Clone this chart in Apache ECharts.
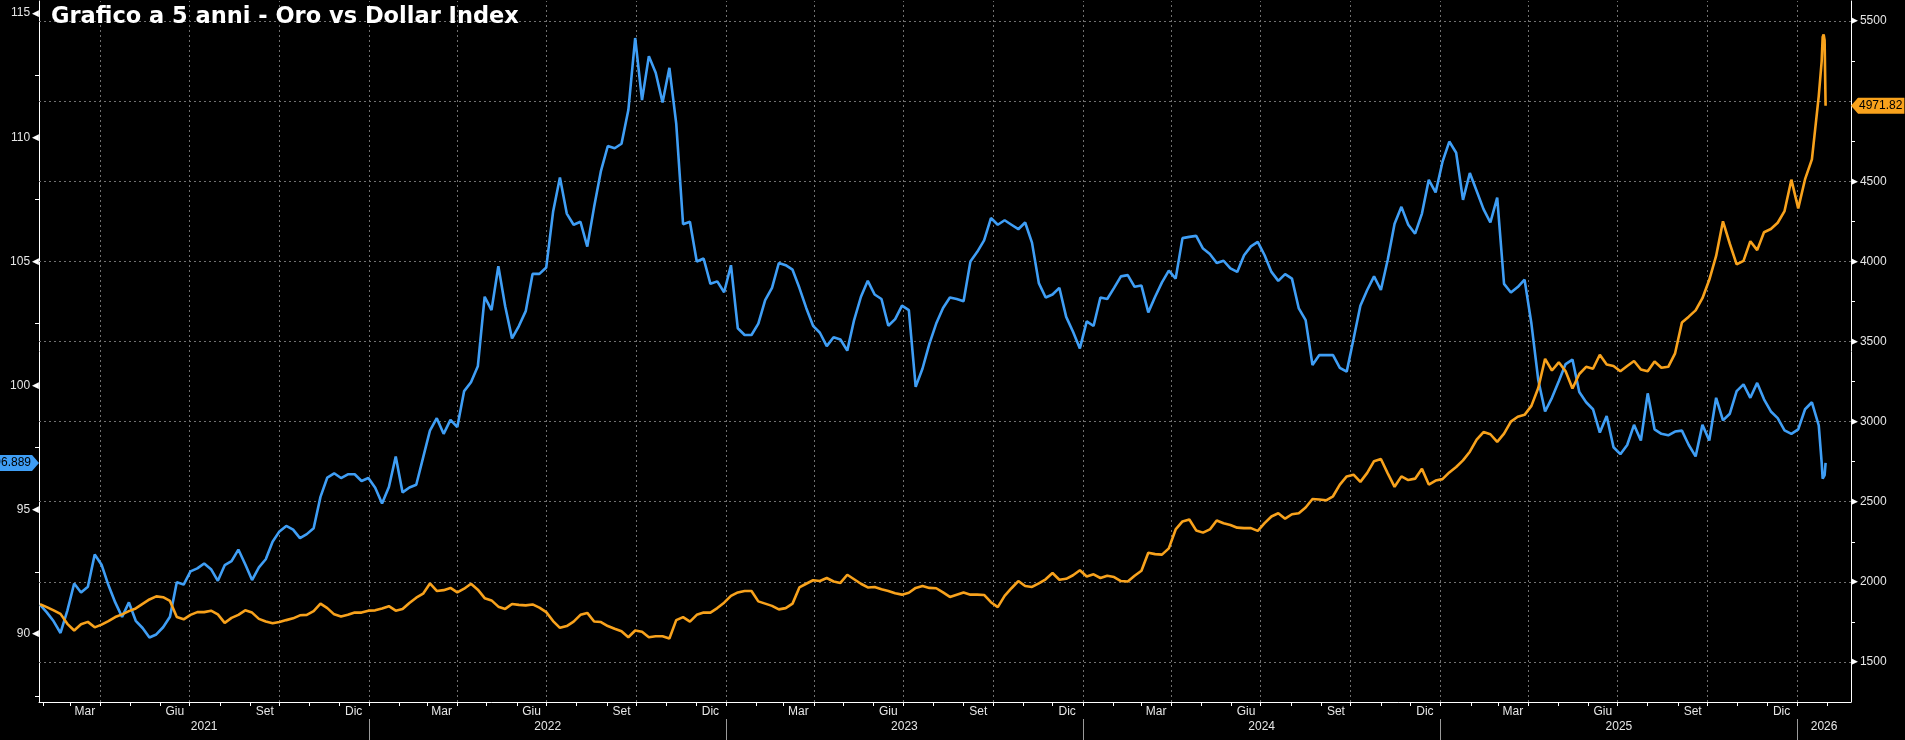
<!DOCTYPE html>
<html>
<head>
<meta charset="utf-8">
<title>Grafico a 5 anni - Oro vs Dollar Index</title>
<script src="https://cdn.jsdelivr.net/npm/echarts@6/dist/echarts.min.js"></script>
<style>
html, body { margin: 0; padding: 0; background: #000; }
#main { width: 1905px; height: 740px; }
</style>
</head>
<body>
<div id="main"></div>
<script>
"use strict";

// serie settimanali (venerdi) a partire dal 29/01/2021
var weekStart = [2021, 0, 29];

var dxyWeekly = [
    91.18, 90.87, 90.51, 90.04, 90.94, 92.03, 91.67, 91.90, 93.2, 92.79,
    91.97, 91.27, 90.69, 91.27, 90.53, 90.24, 89.86, 89.98, 90.27, 90.69,
    92.08, 91.99, 92.52, 92.64, 92.84, 92.61, 92.14, 92.77, 92.93, 93.40,
    92.81, 92.17, 92.68, 93.01, 93.71, 94.13, 94.35, 94.20, 93.86, 94.02,
    94.26, 95.52, 96.30, 96.47, 96.28, 96.43, 96.43, 96.16, 96.28, 95.89,
    95.25, 95.92, 97.15, 95.7, 95.9, 96.01, 97.10, 98.19, 98.69, 98.06,
    98.62, 98.33, 99.78, 100.14, 100.78, 103.58, 103.04, 104.81, 103.2, 101.9,
    102.4, 103.0, 104.5, 104.5, 104.76, 107.0, 108.38, 106.93, 106.48, 106.6,
    105.6, 107.2, 108.65, 109.65, 109.56, 109.74, 111.1, 114.0, 111.5, 113.27,
    112.6, 111.4, 112.8, 110.55, 106.5, 106.6, 105.0, 105.12, 104.1, 104.2,
    103.76, 104.85, 102.31, 102.04, 102.04, 102.5, 103.44, 103.94, 104.94, 104.85,
    104.67, 103.94, 103.13, 102.41, 102.13, 101.59, 101.95, 101.86, 101.41, 102.64,
    103.58, 104.22, 103.67, 103.49, 102.41, 102.68, 103.22, 103.04, 99.95, 100.69,
    101.68, 102.5, 103.13, 103.55, 103.49, 103.40, 105.0, 105.39, 105.85, 106.75,
    106.48, 106.66, 106.48, 106.30, 106.57, 105.76, 104.13, 103.55, 103.67, 103.94,
    102.77, 102.17, 101.50, 102.59, 102.40, 103.55, 103.49, 103.94, 104.40, 104.45,
    103.98, 104.03, 102.95, 103.58, 104.16, 104.63, 104.31, 105.94, 105.99, 106.03,
    105.52, 105.30, 104.94, 105.03, 104.72, 104.58, 105.25, 105.61, 105.79, 105.25,
    104.58, 104.22, 104.49, 104.31, 103.11, 102.64, 100.83, 101.23, 101.23, 101.23,
    100.72, 100.56, 101.88, 103.22, 103.85, 104.40, 103.85, 105.07, 106.52, 107.20,
    106.48, 106.12, 106.93, 108.29, 107.78, 109.01, 109.83, 109.38, 107.48, 108.56,
    107.84, 107.11, 106.57, 107.57, 104.1, 103.75, 103.97, 104.27, 102.5, 100.23,
    98.96, 99.51, 100.18, 100.87, 101.05, 99.74, 99.33, 99.05, 98.11, 98.78,
    97.52, 97.24, 97.61, 98.42, 97.79, 99.69, 98.24, 98.06, 98.0, 98.15,
    98.19, 97.61, 97.15, 98.42, 97.79, 99.51, 98.60, 98.87, 99.78, 100.05,
    99.51, 100.11, 99.45, 98.96, 98.69, 98.2, 98.06, 98.24, 99.05, 99.33,
    98.4
];

var goldWeekly = [
    1860, 1842, 1822, 1800, 1738, 1696, 1735, 1750, 1716, 1733,
    1755, 1780, 1797, 1817, 1834, 1862, 1890, 1909, 1904, 1881,
    1780, 1766, 1794, 1811, 1811, 1820, 1797, 1744, 1775, 1794,
    1822, 1808, 1769, 1752, 1741, 1749, 1761, 1772, 1791, 1794,
    1817, 1864, 1836, 1797, 1783, 1794, 1808, 1808, 1820, 1822,
    1834, 1848, 1820, 1830, 1868, 1901, 1926, 1990, 1943, 1948,
    1962, 1934, 1957, 1988, 1951, 1898, 1884, 1845, 1831, 1862,
    1856, 1853, 1859, 1839, 1811, 1755, 1713, 1724, 1752, 1794,
    1806, 1752, 1749, 1724, 1707, 1691, 1654, 1696, 1688, 1654,
    1660, 1660, 1646, 1761, 1780, 1752, 1794, 1808, 1808, 1836,
    1870, 1912, 1934, 1943, 1943, 1878, 1864, 1850, 1828, 1836,
    1864, 1965, 1988, 2010, 2005, 2024, 2002, 1993, 2044, 2016,
    1988, 1965, 1968, 1954, 1943, 1929, 1920, 1932, 1962, 1974,
    1962, 1960, 1934, 1906, 1920, 1934, 1920, 1920, 1918, 1873,
    1842, 1912, 1960, 2005, 1974, 1968, 1991, 2016, 2055, 2013,
    2019, 2041, 2072, 2033, 2047, 2024, 2038, 2030, 2005, 2002,
    2038, 2069, 2181, 2173, 2170, 2209, 2327, 2377, 2389, 2321,
    2307, 2327, 2383, 2366, 2355, 2338, 2335, 2335, 2318, 2366,
    2408, 2428, 2394, 2422, 2428, 2464, 2517, 2514, 2509, 2534,
    2607, 2658, 2669, 2624, 2680, 2753, 2767, 2677, 2593, 2658,
    2635, 2644, 2705, 2607, 2632, 2641, 2683, 2717, 2758, 2812,
    2887, 2935, 2921, 2873, 2925, 3000, 3030, 3042, 3098, 3210,
    3392, 3319, 3370, 3314, 3207, 3297, 3342, 3330, 3417, 3356,
    3347, 3314, 3347, 3378, 3325, 3314, 3375, 3336, 3342, 3426,
    3619, 3655, 3694, 3770, 3885, 4034, 4250, 4110, 3981, 4003,
    4126, 4070, 4182, 4202, 4241, 4314, 4510, 4331, 4513, 4637,
    5032
];

// ultimi giorni (dati giornalieri)
var tailDates = ['2026-01-26', '2026-01-27', '2026-01-28', '2026-01-29', '2026-01-30'];
var dxyTail = [96.9, 96.25, 96.3, 96.4, 96.889];
var goldTail = [5250, 5400, 5416, 5380, 4971.82];

var monthNames = ['Gen', 'Feb', 'Mar', 'Apr', 'Mag', 'Giu', 'Lug', 'Ago', 'Set', 'Ott', 'Nov', 'Dic'];
var dxyTicks = [90, 95, 100, 105, 110, 115];
var dxyMinor = [87.5, 92.5, 97.5, 102.5, 107.5, 112.5];
var goldTicks = [1500, 2000, 2500, 3000, 3500, 4000, 4500, 5000, 5500];
var goldMinor = [1750, 2250, 2750, 3250, 3750, 4250, 4750, 5250];

var BLUE = '#3f9ef5';
var ORANGE = '#f8a21c';
var FONT = 'Liberation Sans, Arial, sans-serif';

var xMin = new Date(2021, 0, 28).getTime();
var xMax = new Date(2026, 1, 25).getTime();

function parseDay(s){
    var p = s.split('-');
    return new Date(+p[0], +p[1] - 1, +p[2]).getTime();
}

function buildSeries(weekly, tailD, tailV){
    var out = [];
    for (var i = 0; i < weekly.length; i++) {
        out.push([new Date(weekStart[0], weekStart[1], weekStart[2] + 7 * i).getTime(), weekly[i]]);
    }
    for (var j = 0; j < tailD.length; j++) {
        out.push([parseDay(tailD[j]), tailV[j]]);
    }
    return out;
}

var dxyData = buildSeries(dxyWeekly, tailDates, dxyTail);
var goldData = buildSeries(goldWeekly, tailDates, goldTail);
var lastDxy = dxyTail[dxyTail.length - 1];
var lastGold = goldTail[goldTail.length - 1];

// tacche mensili, etichette a meta mese, griglia trimestrale
var monthStarts = [], monthMids = [], quarterLines = [], yearStarts = [], yearMids = [];
for (var y = 2021; y <= 2026; y++) {
    for (var m = 0; m < 12; m++) {
        var t = new Date(y, m, 1).getTime();
        if (t > xMin && t < xMax) {
            monthStarts.push(t);
            if (m % 3 === 0) quarterLines.push({xAxis: t});
        }
        var mid = new Date(y, m, 16).getTime();
        if (m % 3 === 2 && mid > xMin && mid < xMax) monthMids.push(mid);
    }
    var y0 = new Date(y, 0, 1).getTime();
    var y1 = new Date(y + 1, 0, 1).getTime();
    if (y0 > xMin) yearStarts.push(y0);
    yearMids.push((Math.max(y0, xMin) + Math.min(y1, xMax)) / 2);
}

var gridLines = quarterLines.slice();
for (var g = 0; g < goldTicks.length; g++) {
    gridLines.push({yAxis: goldTicks[g]});
}

function tipImage(color, dir){
    var p = dir === 'right' ? 'M0 0L7 8L0 16Z' : 'M7 0L0 8L7 16Z';
    var svg = "<svg xmlns='http://www.w3.org/2000/svg' width='7' height='16'><path d='" + p + "' fill='" + color + "'/></svg>";
    return 'data:image/svg+xml;charset=utf-8,' + encodeURIComponent(svg);
}

var dxyMin = 87.26, dxyMax = 115.49;
var goldMin = 1250, goldMax = 5625;

var option = {
    backgroundColor: '#000',
    animation: false,
    title: {
        text: 'Grafico a 5 anni - Oro vs Dollar Index',
        left: 46,
        top: 1,
        textStyle: { color: '#fff', fontSize: 22.5, fontWeight: 'bold', fontFamily: 'DejaVu Sans' }
    },
    grid: { left: 39, right: 54, top: 1, bottom: 38, outerBoundsMode: 'none' },
    xAxis: [{
        type: 'value', min: xMin, max: xMax,
        axisLine: { lineStyle: { color: '#fff', width: 1 } },
        axisTick: { show: true, customValues: monthStarts, length: 4, lineStyle: { color: '#fff' } },
        axisLabel: {
            customValues: monthMids, margin: 4, color: '#e6e6e6', fontSize: 12, fontFamily: FONT,
            formatter: function (v) { return monthNames[new Date(v).getMonth()]; }
        },
        splitLine: { show: false }
    }, {
        type: 'value', min: xMin, max: xMax, position: 'bottom', offset: 17,
        axisLine: { show: false },
        axisTick: { show: true, customValues: yearStarts, length: 22, lineStyle: { color: '#9a9a9a' } },
        axisLabel: {
            customValues: yearMids, margin: 2, color: '#e6e6e6', fontSize: 12, fontFamily: FONT,
            formatter: function (v) { return '' + new Date(v).getFullYear(); }
        },
        splitLine: { show: false }
    }],
    yAxis: [{
        type: 'value', min: dxyMin, max: dxyMax, position: 'left',
        axisLine: { show: true, lineStyle: { color: '#fff', width: 1 } },
        axisTick: { show: true, customValues: dxyMinor, length: 4, lineStyle: { color: '#fff' } },
        axisLabel: {
            customValues: dxyTicks, margin: 0,
            formatter: function (v) { return '{v|' + v + '}{t|◀}'; },
            rich: {
                v: { color: '#e6e6e6', fontSize: 12, fontFamily: FONT },
                t: { color: '#fff', fontSize: 9, fontFamily: 'DejaVu Sans', padding: [0, 0, 0, 2] }
            }
        },
        splitLine: { show: false }
    }, {
        type: 'value', min: goldMin, max: goldMax, position: 'right',
        axisLine: { show: true, lineStyle: { color: '#fff', width: 1 } },
        axisTick: { show: true, customValues: goldMinor, length: 4, lineStyle: { color: '#fff' } },
        axisLabel: {
            customValues: goldTicks, margin: 0,
            formatter: function (v) {
                // l'etichetta coperta dal valore corrente non si vede
                if (Math.abs(v - lastGold) < 60) return '';
                return '{t|▶}{v|' + v + '}';
            },
            rich: {
                v: { color: '#e6e6e6', fontSize: 12, fontFamily: FONT },
                t: { color: '#fff', fontSize: 9, fontFamily: 'DejaVu Sans', padding: [0, 2, 0, 0] }
            }
        },
        splitLine: { show: false }
    }, {
        // etichetta ultimo valore DXY
        type: 'value', min: dxyMin, max: dxyMax, position: 'left',
        axisLine: { show: false }, axisTick: { show: false }, splitLine: { show: false },
        axisLabel: {
            customValues: [lastDxy], margin: 0,
            formatter: function (v) { return '{b|' + lastDxy + '}{t|}'; },
            rich: {
                b: { backgroundColor: BLUE, color: '#000', fontSize: 12, fontFamily: FONT, height: 16, lineHeight: 16, padding: [0, 1, 0, 2] },
                t: { width: 7, height: 16, backgroundColor: { image: tipImage(BLUE, 'right') } }
            }
        }
    }, {
        // etichetta ultimo valore oro
        type: 'value', min: goldMin, max: goldMax, position: 'right',
        axisLine: { show: false }, axisTick: { show: false }, splitLine: { show: false },
        axisLabel: {
            customValues: [lastGold], margin: 0,
            formatter: function (v) { return '{t|}{b|' + lastGold + '}'; },
            rich: {
                b: { backgroundColor: ORANGE, color: '#000', fontSize: 12, fontFamily: FONT, height: 16, lineHeight: 16, padding: [0, 2, 0, 1] },
                t: { width: 7, height: 16, backgroundColor: { image: tipImage(ORANGE, 'left') } }
            }
        }
    }],
    series: [{
        name: 'Dollar Index',
        type: 'line',
        xAxisIndex: 0,
        yAxisIndex: 0,
        data: dxyData,
        showSymbol: false,
        lineStyle: { color: BLUE, width: 2.6 },
        itemStyle: { color: BLUE },
        z: 3
    }, {
        name: 'Oro',
        type: 'line',
        xAxisIndex: 0,
        yAxisIndex: 1,
        data: goldData,
        showSymbol: false,
        lineStyle: { color: ORANGE, width: 2.6 },
        itemStyle: { color: ORANGE },
        z: 4,
        markLine: {
            silent: true,
            symbol: 'none',
            z: 1,
            label: { show: false },
            lineStyle: { color: '#707070', type: [2, 3], width: 1 },
            data: gridLines
        }
    }]
};

var chart = echarts.init(document.getElementById('main'));
chart.setOption(option, true);
</script>
</body>
</html>
